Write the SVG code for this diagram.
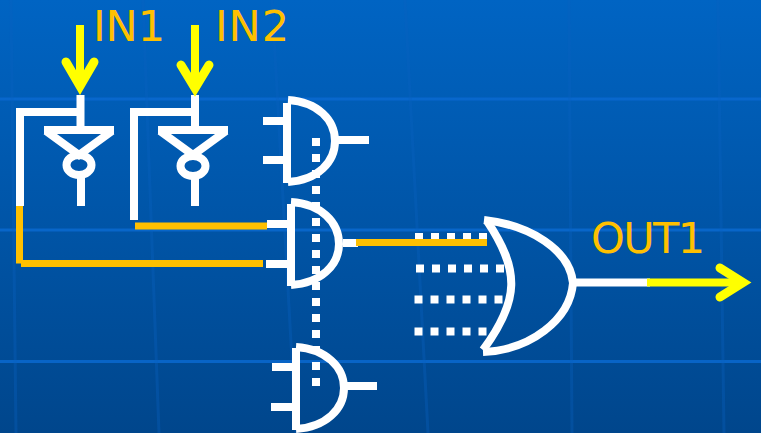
<svg xmlns="http://www.w3.org/2000/svg" width="761" height="433" viewBox="0 0 761 433">
<defs>
<linearGradient id="bg" x1="0" y1="0" x2="0" y2="1"><stop offset="0" stop-color="#0064c3"/><stop offset="1" stop-color="#00468c"/></linearGradient>
</defs>
<style>
.w{fill:none;stroke:#fff;stroke-width:8}
.o{fill:none;stroke:#ffc000;stroke-width:7}
.y{fill:none;stroke:#ff0;stroke-width:8}
.yh{fill:none;stroke:#ff0;stroke-width:9;stroke-linecap:round;stroke-linejoin:miter}
.d{fill:none;stroke:#fff;stroke-width:8;stroke-dasharray:8 8}
.g{fill:none;stroke:#0a6ad2;stroke-width:3;opacity:.8}
.v{fill:none;stroke:#0a62c0;stroke-width:3;opacity:.35}
text{font-family:"DejaVu Sans","Liberation Sans",sans-serif;font-size:43px;fill:#ffc000}
</style>
<rect width="761" height="433" fill="url(#bg)"/>
<g id="grid">
<path class="g" d="M0 99H761M0 230H761M0 361.500H761"/>
<path class="v" d="M11 0L16 433M143 0L159 433M272 0L296 433M405 0L428 433M569 0L572 433M718 0L724 433"/>
</g>
<g id="connectors">
<path class="d" d="M316 138V388"/>
<path class="d" d="M415 237H487M416 268.500H505M414.500 299.500H503M414.500 331.500H487"/>
<path class="w" d="M80.500 95V126M84 112H20V206M81 178V206"/>
<path class="w" d="M195 95V126M195 112H134V220M195 178V206"/>
<path class="w" d="M263 121H287M263 160H287M336 140H369"/>
<path class="w" d="M267 224H291M266 264H291M343 243H358"/>
<path class="w" d="M272 367H296M271 407H296M346 386H377"/>
<path class="w" d="M573 282.500H650"/>
<path class="o" d="M19.500 206V263.500M21 263.500H263M135 226H267M356 242.500H487"/>
<path class="y" d="M647 282.500H740"/>
</g>
<g id="in1"><path class="y" d="M80 25V84"/><path class="yh" d="M66 62L80 86L94 62"/><text x="93" y="41" textLength="72">IN1</text></g>
<g id="in2"><path class="y" d="M195 25V86"/><path class="yh" d="M181 65L195 88L209 65"/><text x="215" y="41" textLength="74">IN2</text></g>
<g id="inv1"><path class="w" d="M44 130H114M46 131L79 155L112 131"/><ellipse class="w" cx="79" cy="165" rx="12.500" ry="10"/></g>
<g id="inv2"><path class="w" d="M158 130H228M160 131L193 155L226 131"/><ellipse class="w" cx="193" cy="166" rx="12.500" ry="10"/></g>
<g id="and1"><path class="w" d="M287 103V183"/><path class="w" d="M288 100C318 102 335 120 335 141C335 162 318 180 288 182"/></g>
<g id="and2"><path class="w" d="M291 204V286"/><path class="w" d="M291 202C321 204 339 222 339 244C339 265 321 283 291 285"/></g>
<g id="and3"><path class="w" d="M296 348V430"/><path class="w" d="M296 347C326 349 344 367 344 388C344 409 326 427 296 429"/></g>
<g id="or1"><path class="w" d="M484 220C530 225 570 250 573 283C570 320 530 350 483 352"/><path class="w" d="M487 221C520 270 520 300 483 350"/></g>
<g id="out1"><path class="yh" d="M720 268L743 282.500L720 297"/><text x="591" y="253" textLength="114">OUT1</text></g>
</svg>
